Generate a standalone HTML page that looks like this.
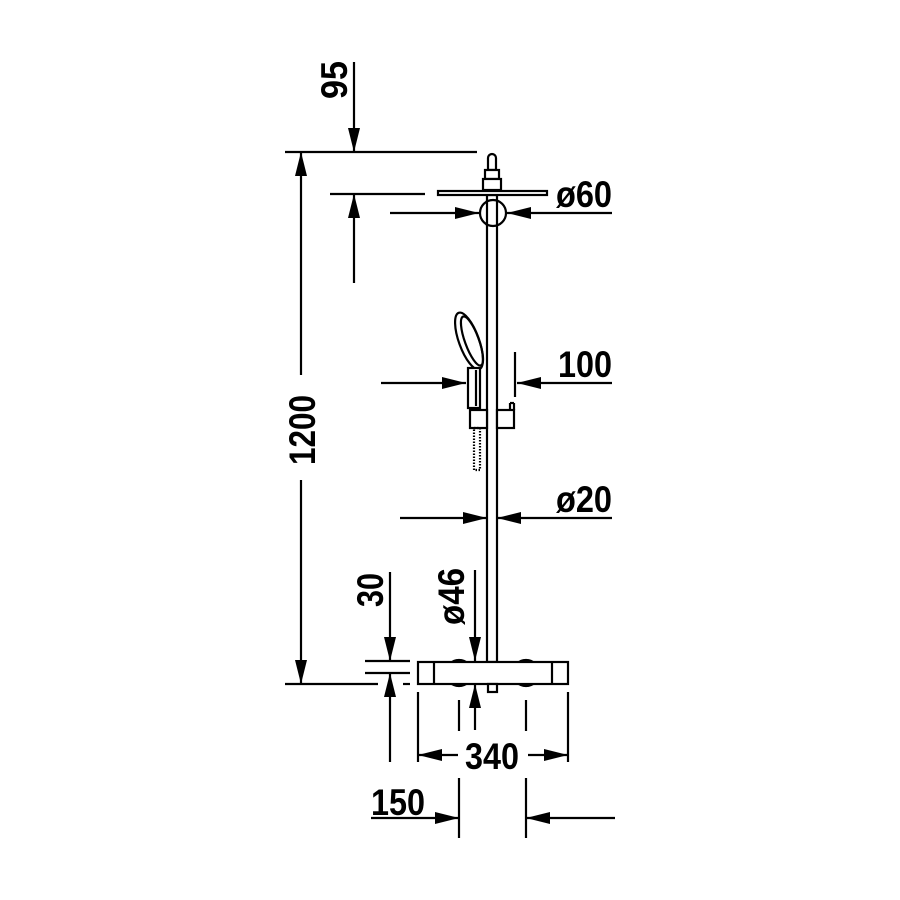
<!DOCTYPE html>
<html><head><style>
html,body{margin:0;padding:0;background:#fff;}
svg{display:block;}
text{font-family:"Liberation Sans",sans-serif;font-weight:bold;font-size:37px;fill:#000;}
</style></head><body>
<svg width="900" height="900" viewBox="0 0 900 900" xmlns="http://www.w3.org/2000/svg">
<defs>
<marker id="a" viewBox="0 0 24 12" refX="24" refY="6" markerWidth="24" markerHeight="12" markerUnits="userSpaceOnUse" orient="auto"><path d="M0,0L24,6L0,12Z" fill="#000"/></marker>
</defs>
<g stroke="#000" stroke-width="2.2" fill="none">
<!-- pole -->
<rect x="487" y="195" width="10" height="467" fill="#fff"/>
<path d="M488,170 V158 A4,4 0 0 1 496,158 V170 Z" fill="#fff"/>
<rect x="485" y="170" width="14" height="9" fill="#fff"/>
<rect x="483" y="179" width="18" height="11" fill="#fff"/>
<rect x="438" y="191" width="109" height="4" fill="#fff"/>
<circle cx="493" cy="213" r="13" fill="#fff"/>
<line x1="487" y1="200" x2="487" y2="226"/><line x1="497" y1="200" x2="497" y2="226"/>
<!-- hand shower -->
<ellipse cx="469" cy="341" rx="10" ry="30" transform="rotate(-20 469 341)" fill="#fff"/>
<ellipse cx="472" cy="341" rx="7" ry="26" transform="rotate(-20 472 341)"/>
<rect x="468" y="368" width="12" height="40" fill="#fff"/>
<line x1="476" y1="370" x2="476" y2="406"/>
<rect x="470" y="410" width="17" height="18" fill="#fff"/>
<rect x="497" y="410" width="17" height="18" fill="#fff"/>
<line x1="510" y1="410" x2="510" y2="403"/><line x1="510" y1="403" x2="514" y2="403"/><line x1="514" y1="403" x2="514" y2="410"/>
<rect x="474" y="428" width="6" height="42" stroke-dasharray="1.5 1.5"/>
<!-- thermostat -->
<circle cx="459" cy="673" r="13" fill="#fff"/>
<circle cx="526" cy="673" r="13" fill="#fff"/>
<rect x="418" y="662" width="150" height="22" fill="#fff"/>
<line x1="434" y1="662" x2="434" y2="684"/><line x1="552" y1="662" x2="552" y2="684"/>
<rect x="488" y="684" width="9" height="8" fill="#fff"/>
<!-- 95 -->
<line x1="285" y1="152" x2="477" y2="152"/>
<line x1="330" y1="194" x2="425" y2="194"/>
<line x1="354" y1="62" x2="354" y2="152" marker-end="url(#a)"/>
<line x1="354" y1="283" x2="354" y2="194" marker-end="url(#a)"/>
<!-- 1200 -->
<line x1="301" y1="375" x2="301" y2="152" marker-end="url(#a)"/>
<line x1="301" y1="480" x2="301" y2="684" marker-end="url(#a)"/>
<line x1="285" y1="684" x2="378" y2="684"/>
<!-- 60 -->
<line x1="390" y1="213" x2="479" y2="213" marker-end="url(#a)"/>
<line x1="612" y1="213" x2="507" y2="213" marker-end="url(#a)"/>
<!-- 100 -->
<line x1="381" y1="383" x2="466" y2="383" marker-end="url(#a)"/>
<line x1="515" y1="352" x2="515" y2="397"/>
<line x1="612" y1="383" x2="517" y2="383" marker-end="url(#a)"/>
<!-- 20 -->
<line x1="400" y1="518" x2="487" y2="518" marker-end="url(#a)"/>
<line x1="612" y1="518" x2="497" y2="518" marker-end="url(#a)"/>
<!-- 30 -->
<line x1="365" y1="661" x2="410" y2="661"/>
<line x1="365" y1="673" x2="410" y2="673"/>
<line x1="403" y1="684" x2="410" y2="684"/>
<line x1="390" y1="572" x2="390" y2="661" marker-end="url(#a)"/>
<line x1="390" y1="762" x2="390" y2="673" marker-end="url(#a)"/>
<!-- 46 -->
<line x1="475" y1="570" x2="475" y2="661" marker-end="url(#a)"/>
<line x1="475" y1="730" x2="475" y2="684" marker-end="url(#a)"/>
<line x1="459" y1="700" x2="459" y2="731"/>
<line x1="526" y1="700" x2="526" y2="731"/>
<!-- 340 -->
<line x1="418" y1="692" x2="418" y2="762"/>
<line x1="568" y1="692" x2="568" y2="762"/>
<line x1="458" y1="755" x2="418" y2="755" marker-end="url(#a)"/>
<line x1="528" y1="755" x2="568" y2="755" marker-end="url(#a)"/>
<!-- 150 -->
<line x1="459" y1="778" x2="459" y2="838"/>
<line x1="526" y1="778" x2="526" y2="838"/>
<line x1="371" y1="818" x2="459" y2="818" marker-end="url(#a)"/>
<line x1="615" y1="818" x2="526" y2="818" marker-end="url(#a)"/>
</g>
<text transform="translate(347,99) rotate(-90)" textLength="38" lengthAdjust="spacingAndGlyphs">95</text>
<text transform="translate(315,465) rotate(-90)" textLength="70" lengthAdjust="spacingAndGlyphs">1200</text>
<text x="556" y="207" textLength="56" lengthAdjust="spacingAndGlyphs">ø60</text>
<text x="558" y="377" textLength="54" lengthAdjust="spacingAndGlyphs">100</text>
<text x="556" y="512" textLength="56" lengthAdjust="spacingAndGlyphs">ø20</text>
<text transform="translate(383,607) rotate(-90)" textLength="34" lengthAdjust="spacingAndGlyphs">30</text>
<text transform="translate(464,625) rotate(-90)" textLength="57" lengthAdjust="spacingAndGlyphs">ø46</text>
<text x="465" y="769" textLength="54" lengthAdjust="spacingAndGlyphs">340</text>
<text x="371" y="815" textLength="54" lengthAdjust="spacingAndGlyphs">150</text>
</svg>
</body></html>
